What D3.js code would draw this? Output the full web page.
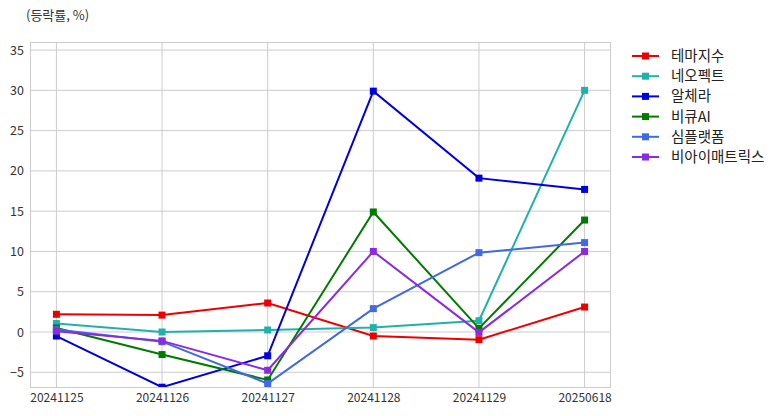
<!DOCTYPE html>
<html><head><meta charset="utf-8">
<script src="https://cdn.jsdelivr.net/npm/d3@7"></script>
<style>
body{margin:0;background:#fff;}
svg{display:block;font-family:"Noto Sans CJK KR","Noto Sans",sans-serif;}
</style></head><body>
<svg id="c" width="782" height="416"></svg>
<script>
const categories = ["20241125","20241126","20241127","20241128","20241129","20250618"];
const seriesNames = ["테마지수","네오펙트","알체라","비큐AI","심플랫폼","비아이매트릭스"];
const seriesColors = ["#ee0000","#20b2aa","#0000dd","#007a00","#4169e1","#8a2be2"];
const v_theme   = [2.2, 2.1, 3.6, -0.5, -0.95, 3.1];
const v_neo     = [1.05, 0.0, 0.25, 0.55, 1.4, 30.0];
const v_alch    = [-0.5, -6.85, -2.95, 29.9, 19.1, 17.7];
const v_bq      = [0.5, -2.8, -5.95, 14.9, 0.45, 13.9];
const v_simple  = [0.3, -1.2, -6.4, 2.9, 9.85, 11.1];
const v_bi      = [0.1, -1.1, -4.75, 10.0, -0.05, 10.0];
const seriesValues = [v_theme, v_neo, v_alch, v_bq, v_simple, v_bi];
const yTicks = [-5,0,5,10,15,20,25,30,35];
const yLabel = "(등락률, %)";

const svg = d3.select("#c");
const L=30, R=611, T=42, B=388;
const x = d3.scaleLinear().domain([-0.25, categories.length-1+0.25]).range([L,R]);
const y = d3.scaleLinear().domain([-6.95, 36]).range([B,T]);

const grid = svg.append("g");
grid.selectAll("line.v").data(categories).join("line")
  .attr("x1",(d,i)=>x(i)).attr("x2",(d,i)=>x(i)).attr("y1",T).attr("y2",B)
  .attr("stroke","#cccccc").attr("stroke-width",1);
grid.selectAll("line.h").data(yTicks).join("line")
  .attr("x1",L).attr("x2",R).attr("y1",d=>y(d)).attr("y2",d=>y(d))
  .attr("stroke","#cccccc").attr("stroke-width",1);

svg.append("clipPath").attr("id","pc").append("rect")
  .attr("x",L).attr("y",T).attr("width",R-L).attr("height",B-T);

const plot = svg.append("g").attr("clip-path","url(#pc)");
const line = d3.line().x((d,i)=>x(i)).y(d=>y(d));
seriesValues.forEach((vals,si)=>{
  const g = plot.append("g");
  g.append("path").datum(vals).attr("d",line).attr("fill","none")
   .attr("stroke",seriesColors[si]).attr("stroke-width",2);
  g.selectAll("rect").data(vals).join("rect")
   .attr("x",(d,i)=>x(i)-3.5).attr("y",d=>y(d)-3.5).attr("width",7).attr("height",7)
   .attr("fill",seriesColors[si]);
});

svg.append("rect").attr("x",L+0.5).attr("y",T+0.5).attr("width",R-L-1).attr("height",B-T-1)
  .attr("fill","none").attr("stroke","#cccccc").attr("stroke-width",1);

const yAxis = d3.axisLeft(y).tickValues(yTicks).tickSize(0).tickPadding(6);
const ya = svg.append("g").attr("transform",`translate(${L},0)`).call(yAxis);
ya.select(".domain").remove();
ya.selectAll("text").attr("font-size",12.5).attr("fill","#333").attr("font-family","'Noto Sans CJK KR',sans-serif");

const xAxis = d3.axisBottom(x).tickValues(d3.range(categories.length)).tickFormat(i=>categories[i]).tickSize(0).tickPadding(5);
const xa = svg.append("g").attr("transform",`translate(0,${B})`).call(xAxis);
xa.select(".domain").remove();
xa.selectAll("text").attr("font-size",12).attr("fill","#333").attr("font-family","'Noto Sans CJK KR',sans-serif");

svg.append("text").attr("x",26).attr("y",20).attr("font-size",13).attr("fill","#333").text(yLabel);

const lg = svg.append("g").attr("transform","translate(632,56)");
seriesNames.forEach((n,i)=>{
  const gy = i*20.2;
  lg.append("line").attr("x1",0).attr("x2",27).attr("y1",gy).attr("y2",gy)
    .attr("stroke",seriesColors[i]).attr("stroke-width",2);
  lg.append("rect").attr("x",13.5-3.5).attr("y",gy-3.5).attr("width",7).attr("height",7).attr("fill",seriesColors[i]);
  lg.append("text").attr("x",39).attr("y",gy+5).attr("font-size",14.5).attr("fill","#222").text(n);
});
</script></body></html>
